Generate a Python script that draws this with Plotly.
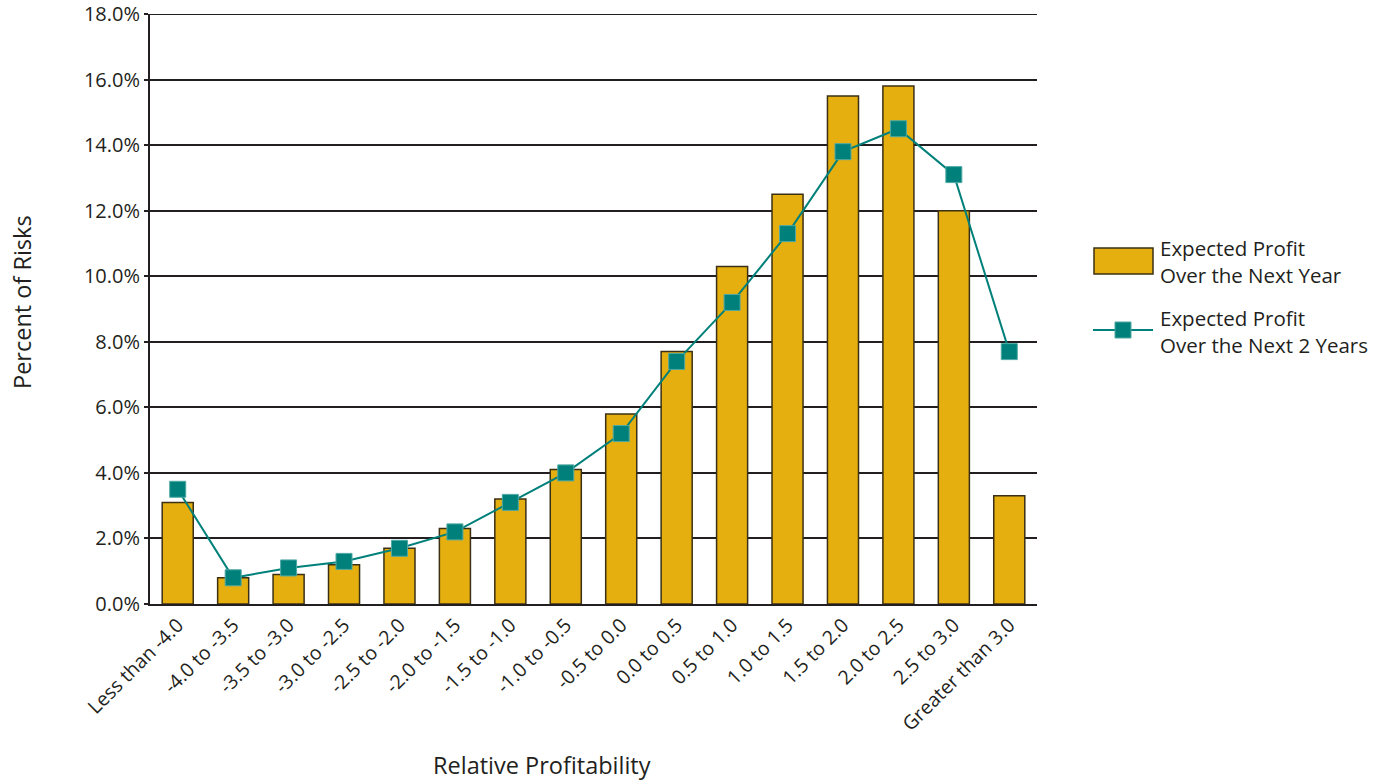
import plotly.graph_objects as go

categories = [
    "Less than -4.0", "-4.0 to -3.5", "-3.5 to -3.0", "-3.0 to -2.5",
    "-2.5 to -2.0", "-2.0 to -1.5", "-1.5 to -1.0", "-1.0 to -0.5",
    "-0.5 to 0.0", "0.0 to 0.5", "0.5 to 1.0", "1.0 to 1.5",
    "1.5 to 2.0", "2.0 to 2.5", "2.5 to 3.0", "Greater than 3.0",
]
profit_next_year = [3.1, 0.8, 0.9, 1.2, 1.7, 2.3, 3.2, 4.1,
                    5.8, 7.7, 10.3, 12.5, 15.5, 15.8, 12.0, 3.3]
profit_next_2_years = [3.5, 0.8, 1.1, 1.3, 1.7, 2.2, 3.1, 4.0,
                       5.2, 7.4, 9.2, 11.3, 13.8, 14.5, 13.1, 7.7]
y_ticks = [0, 2, 4, 6, 8, 10, 12, 14, 16, 18]
y_tick_labels = [f"{v:.1f}%" for v in y_ticks]

GOLD = "#E5AF0F"
BAR_EDGE = "#3B3015"
TEAL = "#00807A"
INK = "#231F20"
FONT = "Open Sans"

fig = go.Figure()
fig.add_trace(go.Bar(
    x=categories, y=profit_next_year,
    marker=dict(color=GOLD, line=dict(color=BAR_EDGE, width=1.5)),
    name="Expected Profit<br>Over the Next Year",
))
fig.add_trace(go.Scatter(
    x=categories, y=profit_next_2_years, mode="lines+markers",
    line=dict(color=TEAL, width=2),
    marker=dict(symbol="square", size=16, color=TEAL,
                line=dict(color="#4FA9A4", width=1)),
    name="Expected Profit<br>Over the Next 2 Years",
))

fig.update_layout(
    width=1390, height=780,
    margin=dict(l=150, r=353, t=14, b=176),
    paper_bgcolor="white", plot_bgcolor="white",
    showlegend=False,
    bargap=0.44,
    font=dict(family=FONT, size=19, color=INK),
    xaxis=dict(
        range=[-0.5, len(categories) - 0.5], automargin=False,
        tickangle=-45, showgrid=False, showline=True,
        linecolor=INK, linewidth=2, ticks="",
        tickfont=dict(size=19.5, color=INK),
    ),
    yaxis=dict(
        range=[0, 18], tickvals=y_ticks, ticktext=y_tick_labels,
        automargin=False,
        showgrid=True, gridcolor=INK, gridwidth=2,
        showline=True, linecolor=INK, linewidth=2,
        ticks="outside", ticklen=4, tickwidth=2, tickcolor=INK,
        tickfont=dict(size=20, color=INK), zeroline=False,
    ),
)

# Gridline at the top of the value range (edge gridlines are not drawn by default)
fig.add_shape(type="line", xref="paper", yref="y", x0=0, x1=1,
              y0=y_ticks[-1], y1=y_ticks[-1], layer="below",
              line=dict(color=INK, width=2))

# Axis titles
fig.add_annotation(text="Percent of Risks", xref="paper", yref="paper",
                   x=(22 - 150) / 887, y=(604 - 302) / 590, textangle=-90,
                   showarrow=False, xanchor="center", yanchor="middle",
                   font=dict(size=23.5, color=INK, family=FONT))
fig.add_annotation(text="Relative Profitability", xref="paper", yref="paper",
                   x=(542 - 150) / 887, y=-(765 - 604) / 590,
                   showarrow=False, xanchor="center", yanchor="middle",
                   font=dict(size=23.5, color=INK, family=FONT))

# Legend drawn in pixel-anchored paper coordinates
def px_x(px):
    return (px - 150) / 887

def px_y(py):
    return (604 - py) / 590

fig.add_shape(type="rect", xref="paper", yref="paper",
              x0=px_x(1094), x1=px_x(1153), y0=px_y(274), y1=px_y(248),
              fillcolor=GOLD, line=dict(color=BAR_EDGE, width=1.5))
fig.add_shape(type="line", xref="paper", yref="paper",
              x0=px_x(1093), x1=px_x(1153), y0=px_y(330), y1=px_y(330),
              line=dict(color=TEAL, width=2))
fig.add_shape(type="rect", xref="paper", yref="paper",
              x0=px_x(1115), x1=px_x(1131), y0=px_y(338), y1=px_y(322),
              fillcolor=TEAL, line=dict(color="#4FA9A4", width=1))
fig.add_annotation(text="Expected Profit<br>Over the Next Year",
                   xref="paper", yref="paper", x=px_x(1158), y=px_y(261),
                   xanchor="left", yanchor="middle", align="left",
                   showarrow=False, font=dict(size=20.5, color=INK, family=FONT))
fig.add_annotation(text="Expected Profit<br>Over the Next 2 Years",
                   xref="paper", yref="paper", x=px_x(1158), y=px_y(331),
                   xanchor="left", yanchor="middle", align="left",
                   showarrow=False, font=dict(size=20.5, color=INK, family=FONT))

fig.write_html("out.html")
